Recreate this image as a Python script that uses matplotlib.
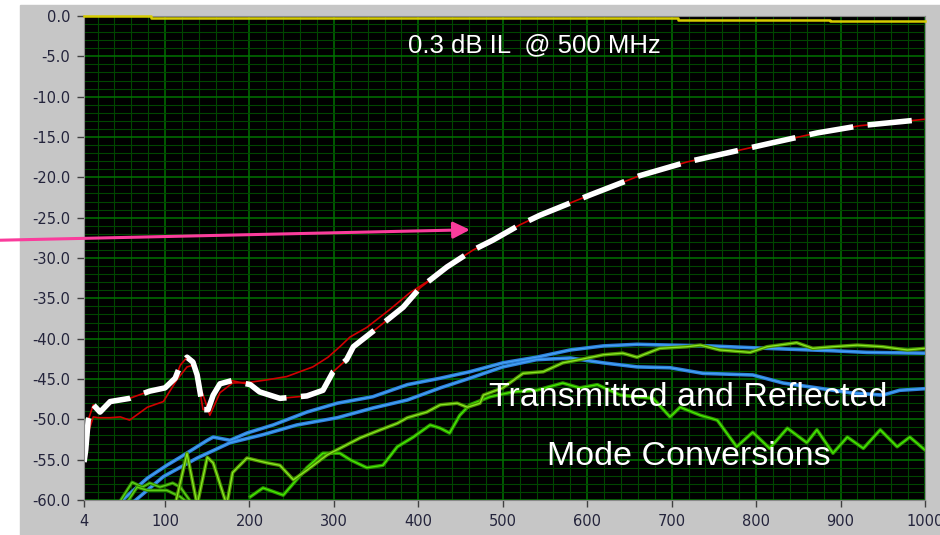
#!/usr/bin/python3
# -*- coding: utf-8 -*-

import matplotlib
matplotlib.use('Agg')
import matplotlib.pyplot as pl
import matplotlib.patheffects as pe
from matplotlib.patches import Rectangle
from matplotlib.ticker import FormatStrFormatter
import numpy as np

# insertion loss (yellow, top)
il_freq = [4, 83, 707, 887, 1000]
il_db = [0.0, -0.3, -0.45, -0.65, -0.65]

# main curve (white dashed over red)
main_freq = [4, 6, 9, 15, 23, 35, 58, 82, 100, 112, 118, 126, 133, 138, 145,
             151, 157, 165, 179, 201, 212, 236, 268, 287, 299, 315, 323, 351,
             382, 402, 434, 465, 488, 520, 544, 603, 662, 718, 769, 820, 872,
             923, 1000]
main_db = [-55.3, -53.8, -50.1, -48.2, -49.1, -47.8, -47.4, -46.5, -46.1, -44.9,
           -43.3, -42.3, -42.9, -44.5, -48.8, -48.8, -47.0, -45.6, -45.2, -45.7,
           -46.6, -47.4, -47.1, -46.4, -44.1, -42.6, -41.0, -38.7, -36.1, -33.7,
           -31.1, -29.0, -27.8, -25.9, -24.7, -22.2, -19.8, -18.1, -16.9, -15.7,
           -14.5, -13.6, -12.8]

# second thin red trace, merges with the main one above ~430 MHz
red_freq = [4, 5, 15, 21, 35, 47, 58, 79, 98, 114, 126, 133, 150, 153, 165,
            180, 201, 221, 244, 275, 293, 307, 319, 339, 366, 390, 414, 434]
red_db = [-55.4, -52.9, -49.7, -49.8, -49.8, -49.7, -50.1, -48.5, -47.8, -45.1,
          -43.5, -43.3, -48.5, -49.5, -46.7, -45.5, -45.4, -45.1, -44.7, -43.5,
          -42.3, -41.0, -39.8, -38.6, -36.4, -34.3, -32.7, -31.1]

# blue, flat at the top end
blue_f_freq = [44, 79, 102, 118, 150, 157, 177, 197, 228, 268, 304, 346, 387,
               426, 461, 500, 540, 580, 619, 659, 698, 745, 813, 891, 931, 1000]
blue_f_db = [-60.5, -57.3, -55.7, -54.7, -52.6, -52.2, -52.6, -51.7, -50.7, -49.1,
             -48.0, -47.2, -45.7, -44.9, -44.1, -43.0, -42.3, -41.4, -40.9, -40.7,
             -40.8, -40.9, -41.2, -41.5, -41.7, -41.8]

# blue, peaks near 580 MHz then drops
blue_p_freq = [62, 98, 138, 177, 216, 256, 304, 346, 387, 426, 461, 500, 540,
               580, 619, 659, 698, 737, 796, 832, 872, 911, 950, 970, 1000]
blue_p_db = [-60.3, -57.1, -54.8, -52.9, -51.9, -50.7, -49.8, -48.6, -47.6, -46.1,
             -44.9, -43.5, -42.6, -42.4, -43.0, -43.5, -43.6, -44.3, -44.5, -45.5,
             -46.1, -46.7, -47.0, -46.4, -46.2]

# green, ends up flat around -41 dB
green_a_freq = [112, 126, 138, 150, 157, 173, 180, 197, 221, 236, 252, 268, 292,
                307, 331, 355, 375, 387, 410, 426, 446, 458, 473, 477, 500, 524,
                548, 571, 591, 619, 642, 659, 686, 718, 734, 757, 793, 813, 848,
                867, 891, 920, 950, 979, 1000]
green_a_db = [-60.6, -54.2, -60.6, -54.7, -55.4, -60.6, -56.6, -54.8, -55.4, -55.7,
              -57.5, -56.3, -54.4, -53.6, -52.3, -51.3, -50.5, -49.8, -49.1, -48.2,
              -48.0, -48.5, -48.0, -47.0, -46.1, -44.3, -44.1, -43.0, -42.6, -42.0,
              -41.8, -42.3, -41.2, -41.0, -40.8, -41.4, -41.7, -41.0, -40.5, -41.2,
              -41.0, -40.8, -41.0, -41.4, -41.2]

# green, rises then ripples down to about -53 dB
green_b_freq = [201, 216, 240, 268, 287, 307, 319, 339, 358, 375, 394, 414, 426,
                437, 449, 461, 485, 512, 540, 571, 591, 612, 639, 678, 698, 710,
                734, 754, 777, 796, 816, 837, 860, 872, 891, 908, 927, 947, 967,
                982, 1000]
green_b_db = [-59.6, -58.5, -59.4, -56.0, -54.2, -54.2, -55.0, -56.0, -55.7, -53.4,
              -52.2, -50.7, -51.1, -51.7, -49.5, -48.2, -47.2, -46.6, -46.4, -45.5,
              -46.1, -45.7, -47.0, -47.4, -49.7, -48.5, -49.5, -50.1, -53.4, -51.6,
              -53.6, -51.1, -52.9, -51.3, -54.2, -52.2, -53.6, -51.3, -53.4, -52.2,
              -53.8]

# low frequency green stubs
green_c_freq = [44, 61, 73, 82, 94, 109, 118, 133]
green_c_db = [-60.6, -57.8, -58.4, -57.9, -58.4, -57.9, -58.4, -60.6]
green_d_freq = [53, 67, 79, 102, 118, 130]
green_d_db = [-60.6, -58.4, -58.8, -58.8, -59.6, -60.6]

x_ticks = [4, 100, 200, 300, 400, 500, 600, 700, 800, 900, 1000]


def doubled(color, width=2.8):
    return [pe.Stroke(linewidth=width, foreground=color), pe.Normal()]


def main():
    pl.rcParams['axes.unicode_minus'] = False

    fig = pl.figure(figsize=(9.4, 5.35), dpi=100)
    fig.patch.set_facecolor('white')
    fig.add_artist(Rectangle((20 / 940, 0), 1, 530 / 535,
                             transform=fig.transFigure, color='#c6c6c6', zorder=-10))

    ax = fig.add_axes([84 / 940, 35 / 535, 841 / 940, 484 / 535])
    ax.set_facecolor('black')

    ax.set_xlim(4, 1000)
    ax.set_ylim(-60, 0)
    ax.set_xticks(x_ticks)
    ax.set_xticks(np.arange(20, 1000, 20), minor=True)
    ax.set_yticks(np.arange(-60, 1, 5))
    ax.set_yticks(np.arange(-60, 1, 1), minor=True)
    ax.yaxis.set_major_formatter(FormatStrFormatter('%.1f'))

    ax.grid(True, which='minor', color='#004600', linewidth=0.8)
    ax.grid(True, which='major', color='#007200', linewidth=1.1)
    ax.set_axisbelow(True)

    ax.tick_params(which='minor', length=0)
    ax.tick_params(which='major', length=5, width=1, color='#404040',
                   labelsize=10.5, labelcolor='#24243c', pad=5)
    for spine in ax.spines.values():
        spine.set_color('#8a8a8a')

    # blue traces
    ax.plot(blue_f_freq, blue_f_db, color='#4aa3f5', lw=0.8,
            path_effects=doubled('#2c82dc', 2.6))
    ax.plot(blue_p_freq, blue_p_db, color='#4aa3f5', lw=0.8,
            path_effects=doubled('#2c82dc', 2.6))

    # green traces
    ax.plot(green_c_freq, green_c_db, color='#5cd21a', lw=0.9,
            path_effects=doubled('#2f8a00', 2.4))
    ax.plot(green_d_freq, green_d_db, color='#5cd21a', lw=0.9,
            path_effects=doubled('#2f8a00', 2.4))
    ax.plot(green_b_freq, green_b_db, color='#48ee00', lw=0.9,
            path_effects=doubled('#2a9000', 2.6))
    ax.plot(green_a_freq, green_a_db, color='#8ae824', lw=0.9,
            path_effects=doubled('#4a9000', 2.6))

    # red + white dashed
    ax.plot(red_freq, red_db, color='#d00000', lw=1.2)
    ax.plot(main_freq, main_db, color='#d00000', lw=1.2)
    white, = ax.plot(main_freq, main_db, color='white', lw=4.0,
                     solid_capstyle='butt')
    white.set_dashes([8, 2.6])
    white.set_dash_capstyle('butt')

    ax.plot(il_freq, il_db, color='#d6cc00', lw=1.8, drawstyle='steps-post',
            clip_on=False, zorder=5)

    font = ['Liberation Sans', 'DejaVu Sans']
    ax.text(0.536, 0.94, '0.3 dB IL  @ 500 MHz', transform=ax.transAxes,
            color='white', fontsize=18.5, family=font, ha='center', va='center')
    ax.text(0.718, 0.212, 'Transmitted and Reflected', transform=ax.transAxes,
            color='white', fontsize=24.5, family=font, ha='center', va='center')
    ax.text(0.719, 0.089, 'Mode Conversions', transform=ax.transAxes,
            color='white', fontsize=24.5, family=font, ha='center', va='center')

    ax.annotate('', xy=(461, -26.5), xycoords='data',
                xytext=(0, 0.551), textcoords='figure fraction',
                arrowprops=dict(arrowstyle='-|>,head_length=0.5,head_width=0.25',
                                color='#fa3c9c', lw=2.2, mutation_scale=20,
                                shrinkA=0, shrinkB=0),
                annotation_clip=False)

    fig.savefig('out.png', dpi=100, facecolor=fig.get_facecolor())


if __name__ == "__main__":
    main()
